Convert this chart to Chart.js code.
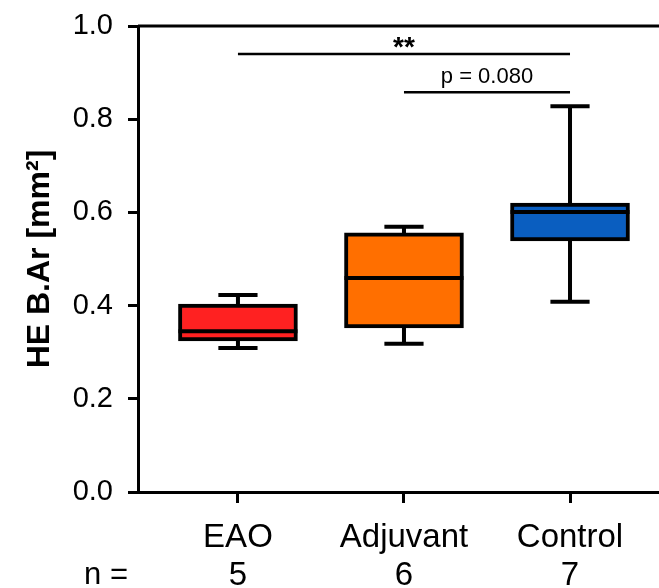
<!DOCTYPE html>
<html>
<head>
<meta charset="utf-8">
<script src="https://cdn.jsdelivr.net/npm/chart.js@4.4.1/dist/chart.umd.min.js"></script>
<style>
body { margin: 0; background: #fff; }
#wrap { width: 659px; height: 588px; }
</style>
</head>
<body>
<div id="wrap"><canvas id="boxcanvas"></canvas></div>
<script>
const groups = ['EAO', 'Adjuvant', 'Control'];
const groupN = ['5', '6', '7'];
const whiskerLow = [0.309, 0.318, 0.408];
const quartile1 = [0.324, 0.352, 0.539];
const medians = [0.345, 0.459, 0.601];
const quartile3 = [0.403, 0.556, 0.620];
const whiskerHigh = [0.423, 0.569, 0.828];
const boxColors = ['#ff2121', '#ff6f00', '#0a5ec0'];
// significance brackets
const sigFrom = [0, 1];
const sigTo = [2, 2];
const sigHeight = [0.94, 0.858];
const sigLabel = ['**', 'p = 0.080'];

const fontFamily = '"Liberation Sans", Arial, sans-serif';

const boxExtras = {
	id: 'boxExtras',
	afterDatasetsDraw(chart) {
		const ctx = chart.ctx;
		const xs = chart.scales.x;
		const ys = chart.scales.y;
		const area = chart.chartArea;
		const bars = chart.getDatasetMeta(0).data;
		ctx.save();
		ctx.strokeStyle = '#000';
		ctx.lineCap = 'butt';

		// top frame line
		ctx.lineWidth = 3;
		ctx.beginPath();
		ctx.moveTo(area.left, area.top);
		ctx.lineTo(area.right, area.top);
		ctx.stroke();

		groups.forEach(function(g, i){
			const cx = xs.getPixelForValue(i);
			const capL = xs.getPixelForValue(i - 0.118);
			const capR = xs.getPixelForValue(i + 0.118);
			const bar = bars[i];
			ctx.lineWidth = 4;
			ctx.beginPath();
			// whiskers
			ctx.moveTo(cx, ys.getPixelForValue(quartile3[i]));
			ctx.lineTo(cx, ys.getPixelForValue(whiskerHigh[i]));
			ctx.moveTo(capL, ys.getPixelForValue(whiskerHigh[i]));
			ctx.lineTo(capR, ys.getPixelForValue(whiskerHigh[i]));
			ctx.moveTo(cx, ys.getPixelForValue(quartile1[i]));
			ctx.lineTo(cx, ys.getPixelForValue(whiskerLow[i]));
			ctx.moveTo(capL, ys.getPixelForValue(whiskerLow[i]));
			ctx.lineTo(capR, ys.getPixelForValue(whiskerLow[i]));
			// median
			ctx.moveTo(bar.x - bar.width / 2, ys.getPixelForValue(medians[i]));
			ctx.lineTo(bar.x + bar.width / 2, ys.getPixelForValue(medians[i]));
			ctx.stroke();
		});

		// significance brackets
		ctx.fillStyle = '#000';
		ctx.textAlign = 'center';
		ctx.textBaseline = 'alphabetic';
		sigLabel.forEach(function(label, k){
			const x1 = xs.getPixelForValue(sigFrom[k]);
			const x2 = xs.getPixelForValue(sigTo[k]);
			const y = ys.getPixelForValue(sigHeight[k]);
			ctx.lineWidth = 2.5;
			ctx.beginPath();
			ctx.moveTo(x1, y);
			ctx.lineTo(x2, y);
			ctx.stroke();
			if(label === '**'){
				ctx.font = 'bold 28px ' + fontFamily;
				ctx.fillText(label, (x1 + x2) / 2, y + 2);
			} else {
				ctx.font = '22px ' + fontFamily;
				ctx.fillText(label, (x1 + x2) / 2, y - 9);
			}
		});

		// n = row label
		ctx.font = '31px ' + fontFamily;
		ctx.textAlign = 'right';
		ctx.fillText('n =', 128, 584);
		ctx.restore();
	}
};

new Chart(
	document.getElementById('boxcanvas'),
	{
		type: 'bar',
		data: {
			datasets: [{
				data: groups.map(function(g, i){ return {x: i, y: [quartile1[i], quartile3[i]]}; }),
				backgroundColor: boxColors,
				borderColor: '#000',
				borderWidth: 4,
				borderSkipped: false,
				barThickness: 119
			}]
		},
		options: {
			responsive: true,
			maintainAspectRatio: false,
			animation: false,
			layout: { padding: { top: 26, right: 0, left: 0, bottom: 0 } },
			plugins: {
				legend: { display: false },
				tooltip: { enabled: false }
			},
			scales: {
				x: {
					type: 'linear',
					min: -0.602,
					max: 2.536,
					offset: false,
					afterBuildTicks: function(scale){
						scale.ticks = groups.map(function(g, i){ return {value: i}; });
					},
					afterFit: function(scale){
						scale.height = 96;
						scale.paddingLeft = 0;
						scale.paddingRight = 0;
					},
					grid: {
						offset: false,
						drawOnChartArea: false,
						drawTicks: true,
						tickLength: 11,
						tickWidth: 3,
						tickColor: '#000'
					},
					border: { display: true, width: 3, color: '#000' },
					ticks: {
						color: '#000',
						padding: 16,
						maxRotation: 0,
						autoSkip: false,
						font: { family: fontFamily, size: 33, lineHeight: 1.14 },
						callback: function(v){ return [groups[v], groupN[v]]; }
					}
				},
				y: {
					min: 0,
					max: 1,
					afterFit: function(scale){
						scale.width = 138;
						scale.paddingTop = 0;
						scale.paddingBottom = 0;
					},
					grid: {
						drawOnChartArea: false,
						drawTicks: true,
						tickLength: 10,
						tickWidth: 3,
						tickColor: '#000'
					},
					border: { display: true, width: 3, color: '#000' },
					ticks: {
						stepSize: 0.2,
						color: '#000',
						padding: 15,
						font: { family: fontFamily, size: 29 },
						callback: function(v){ return v.toFixed(1); }
					},
					title: {
						display: true,
						text: 'HE B.Ar [mm²]',
						color: '#000',
						padding: { top: 21, bottom: 0 },
						font: { family: fontFamily, size: 32, weight: 'bold' }
					}
				}
			}
		},
		plugins: [boxExtras]
	}
);
</script>
</body>
</html>
